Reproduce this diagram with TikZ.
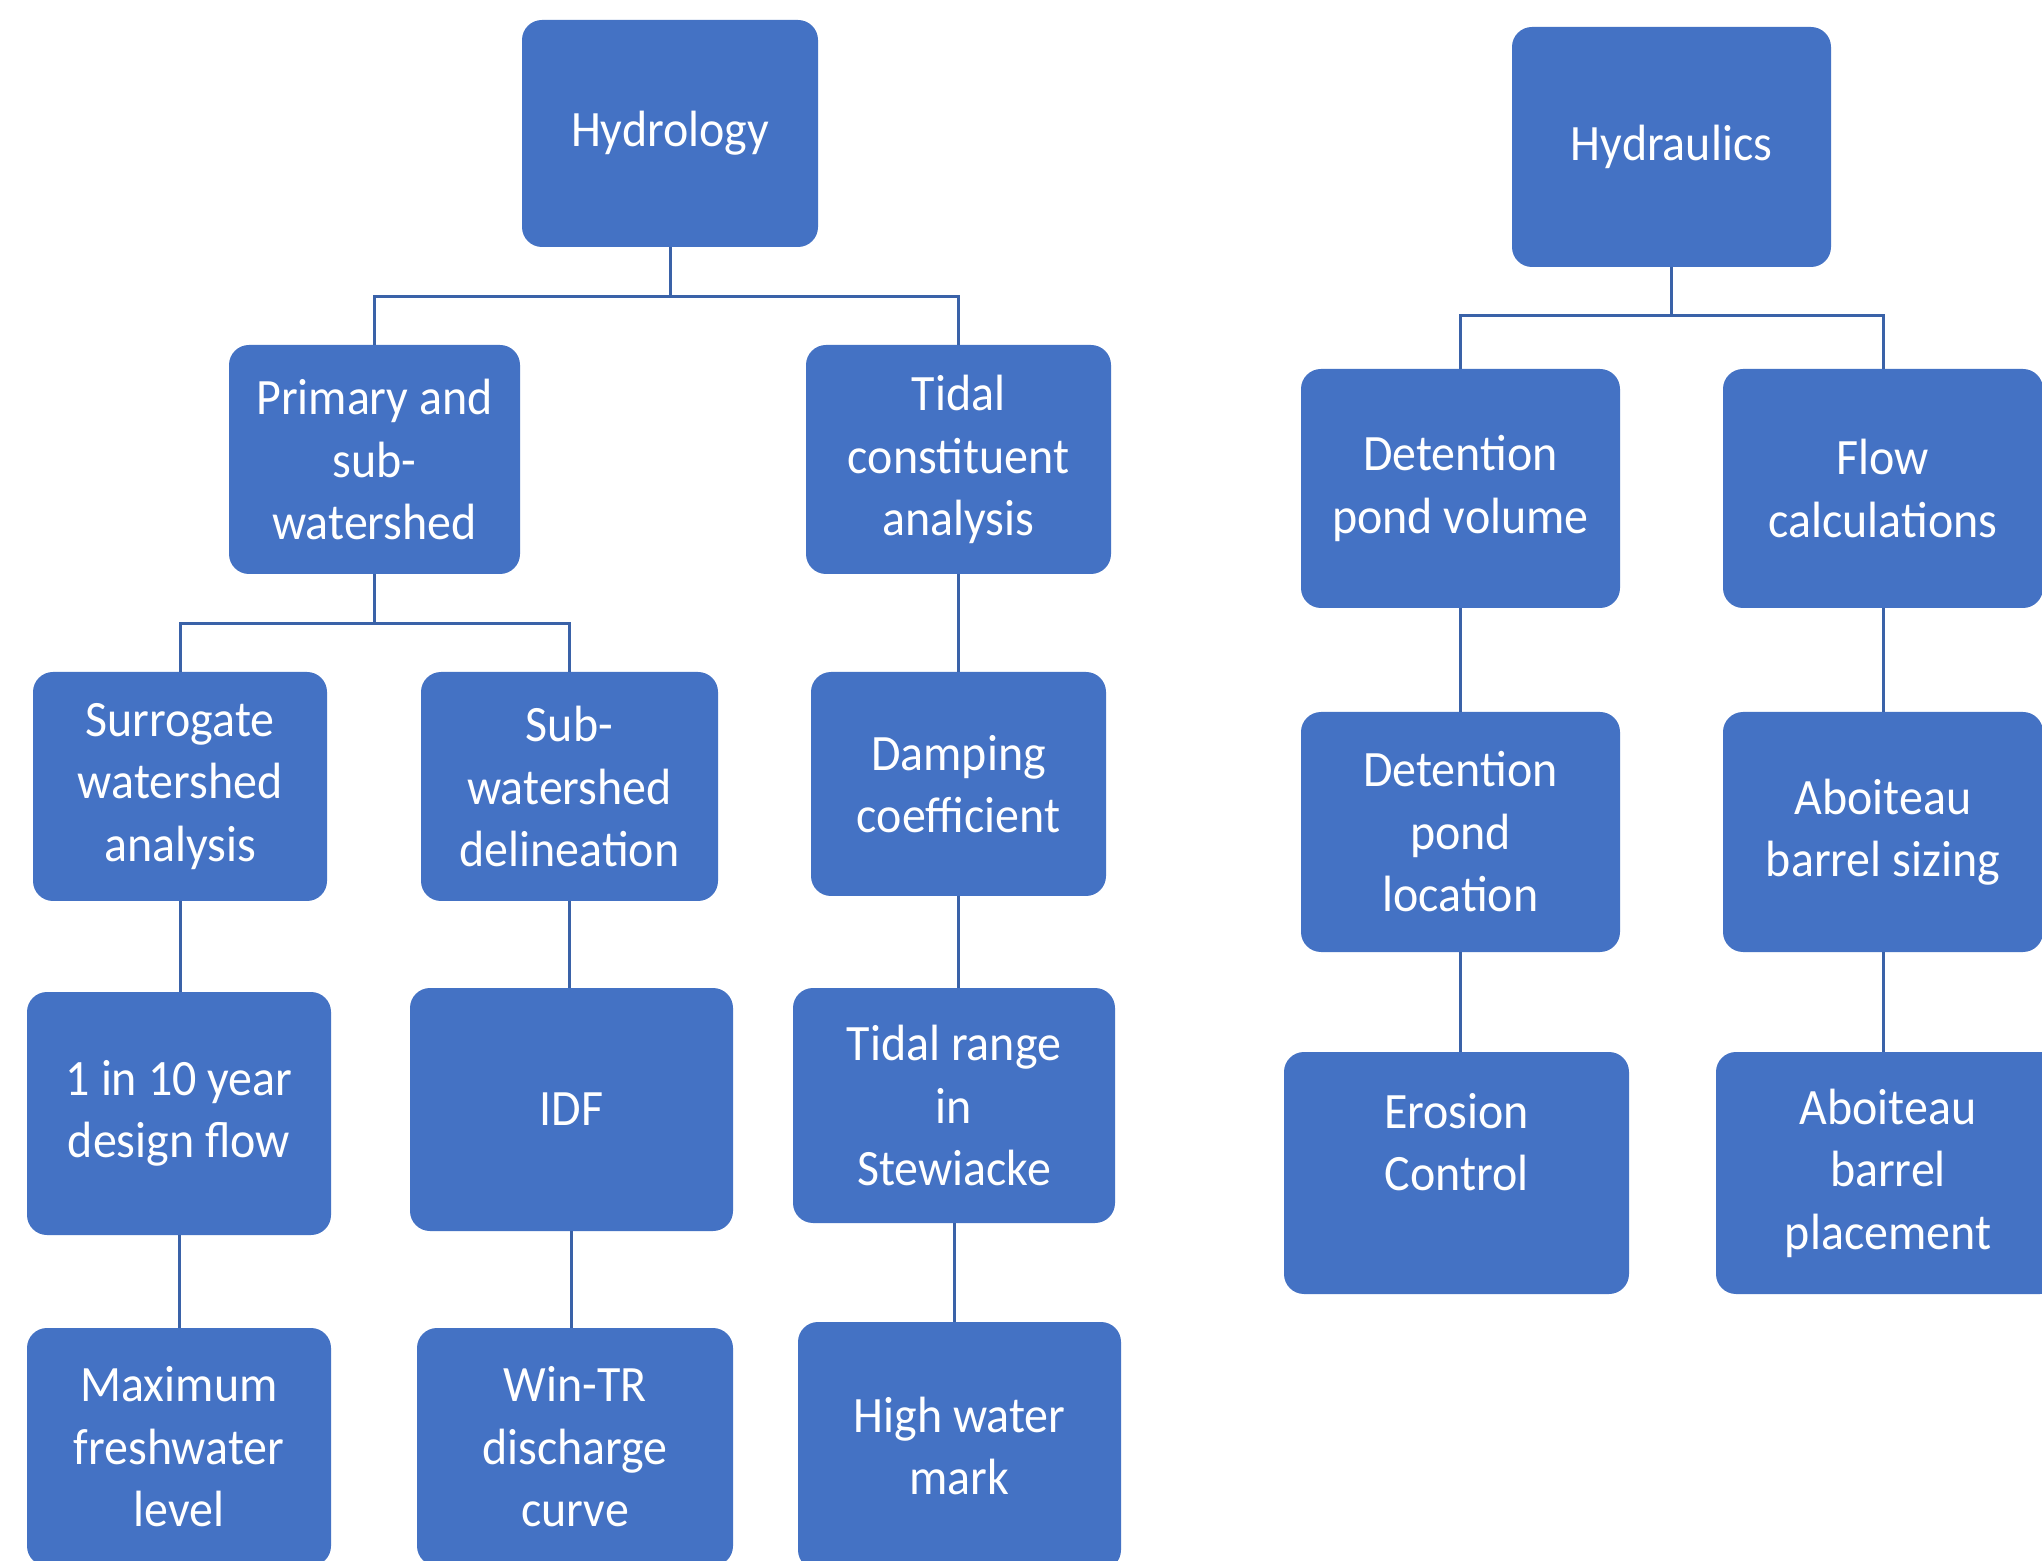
\documentclass[tikz,border=0pt]{standalone}
\usepackage{fontspec}
\setmainfont{Carlito}[FakeStretch=0.94]
\definecolor{boxblue}{HTML}{4472C4}
\definecolor{lineblue}{HTML}{3A62A8}
\begin{document}
\begin{tikzpicture}[x=0.5pt,y=-0.5pt,
  box/.style={fill=boxblue, rounded corners=10pt, inner sep=0pt, align=center,
    text=white, font=\fontsize{25.5}{31.25}\selectfont},
  conn/.style={draw=lineblue, line width=1.5pt}]
\clip (0,0) rectangle (2042,1561);
\fill[white] (0,0) rectangle (2042,1561);
% Hydrology tree
\node[box, minimum width=148pt, minimum height=113.5pt] (hyd) at (670,133.5) {Hydrology};
\node[box, minimum width=145.5pt, minimum height=114.5pt] (psub) at (374.5,459.5) {Primary and\\sub-\\watershed};
\node[box, minimum width=152.5pt, minimum height=114.5pt] (tca) at (958.5,459.5) {Tidal\\constituent\\analysis};
\node[box, minimum width=147pt, minimum height=114.5pt] (sur) at (180,786.5) {Surrogate\\watershed\\analysis};
\node[box, minimum width=148.5pt, minimum height=114.5pt] (swd) at (569.5,786.5) {Sub-\\watershed\\delineation};
\node[box, minimum width=147.5pt, minimum height=112pt] (damp) at (958.5,784) {Damping\\coefficient};
\node[box, minimum width=152pt, minimum height=121.5pt] (t10) at (179,1113.5) {1 in 10 year\\design flow};
\node[box, minimum width=161.5pt, minimum height=121.5pt] (idf) at (571.5,1109.5) {IDF};
\node[box, minimum width=161pt, minimum height=117.5pt] (trs) at (954,1105.5) {Tidal range\\in\\Stewiacke};
\node[box, minimum width=152pt, minimum height=119pt] (mfl) at (179,1447) {Maximum\\freshwater\\level};
\node[box, minimum width=158pt, minimum height=119pt] (win) at (575,1447) {Win-TR\\discharge\\curve};
\node[box, minimum width=161.5pt, minimum height=124pt] (hwm) at (959.5,1446) {High water\\mark};
% Hydraulics tree
\node[box, minimum width=159.5pt, minimum height=120pt] (hyr) at (1671.5,147) {Hydraulics};
\node[box, minimum width=159.5pt, minimum height=119.5pt] (dpv) at (1460.5,488.5) {Detention\\pond volume};
\node[box, minimum width=160pt, minimum height=119.5pt] (flow) at (1883,488.5) {Flow\\calculations};
\node[box, minimum width=159.5pt, minimum height=120pt] (dpl) at (1460.5,832) {Detention\\pond\\location};
\node[box, minimum width=160pt, minimum height=120pt] (abs) at (1883,832) {Aboiteau\\barrel sizing};
\node[box, minimum width=172.5pt, minimum height=121pt] (ero) at (1456.5,1173) {Erosion\\Control\\~};
\node[box, minimum width=172pt, minimum height=121pt] (abp) at (1888,1173) {Aboiteau\\barrel\\placement};
% connectors
\coordinate (j1) at (670,297);
\coordinate (j2) at (374.5,624);
\coordinate (j3) at (1671.5,316);
\draw[conn] (hyd.south) -- (j1);
\draw[conn] (psub.north) |- (j1) -| (tca.north);
\draw[conn] (psub.south) -- (j2);
\draw[conn] (sur.north) |- (j2) -| (swd.north);
\draw[conn] (tca.south) -- (tca.south |- damp.north);
\draw[conn] (sur.south) -- (sur.south |- t10.north);
\draw[conn] (swd.south) -- (swd.south |- idf.north);
\draw[conn] (damp.south) -- (damp.south |- trs.north);
\draw[conn] (t10.south) -- (t10.south |- mfl.north);
\draw[conn] (idf.south) -- (idf.south |- win.north);
\draw[conn] (trs.south) -- (trs.south |- hwm.north);
\draw[conn] (hyr.south) -- (j3);
\draw[conn] (dpv.north) |- (j3) -| (flow.north);
\draw[conn] (dpv.south) -- (dpv.south |- dpl.north);
\draw[conn] (flow.south) -- (flow.south |- abs.north);
\draw[conn] (dpl.south) -- (dpl.south |- ero.north);
\draw[conn] (abs.south) -- (abs.south |- abp.north);
\end{tikzpicture}
\end{document}
